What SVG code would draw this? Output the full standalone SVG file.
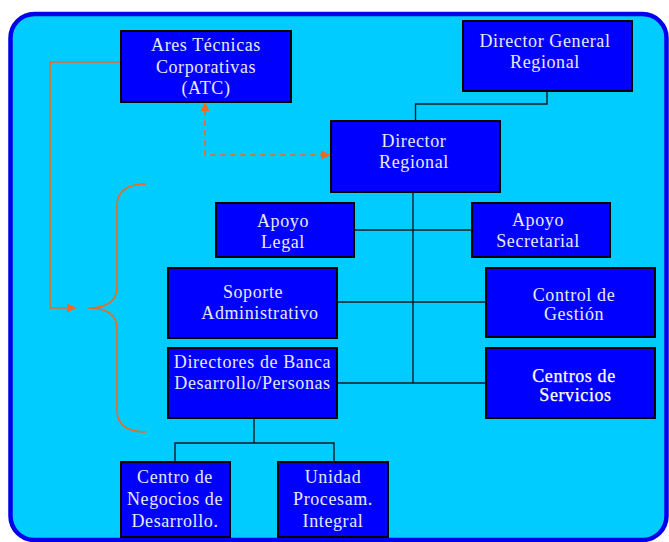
<svg xmlns="http://www.w3.org/2000/svg" width="669" height="542" viewBox="0 0 669 542">
<defs>
<style>
.box{fill:#0000FF;stroke:#000;stroke-width:2}
.t{font-family:"Liberation Serif","Times New Roman",serif;font-size:18px;fill:#E8E8FF;text-anchor:middle;letter-spacing:0.6px}
.b{fill:#FFFFFF;stroke:#FFFFFF;stroke-width:0.25}
.ln{fill:none;stroke:#0d1a26;stroke-width:1.4}
.or{fill:none;stroke:#EE6A1E;stroke-width:1.6}
.dash{stroke-dasharray:6 4}
.ah{fill:#EE6A1E}
</style>
</defs>
<rect x="10.5" y="14" width="656" height="526" rx="24" ry="24" fill="#00CCFF" stroke="#0000EE" stroke-width="4.5"/>
<g id="connectors">
<polyline class="ln" points="547,91 547,104 415.5,104 415.5,121"/>
<line class="ln" x1="413" y1="192" x2="413" y2="383"/>
<line class="ln" x1="354" y1="230" x2="472" y2="230"/>
<line class="ln" x1="337" y1="302" x2="486" y2="302"/>
<line class="ln" x1="337" y1="383" x2="486" y2="383"/>
<polyline class="ln" points="254,418 254,443"/>
<polyline class="ln" points="175,462 175,443 334,443 334,462"/>
<polyline class="or" points="121,62 50,62 50,308 68,308"/>
<polygon class="ah" points="77,308 67,303.5 67,312.5"/>
<polyline class="or dash" points="205,110 205,155 322,155"/>
<polygon class="ah" points="205,102 200.5,111 209.5,111"/>
<polygon class="ah" points="331,155 321,150.5 321,159.5"/>
<path class="or" d="M146,184 Q117,184 117,206 L117,287 Q117,308 88,308 Q117,308 117,329 L117,410 Q117,432 146,432"/>
</g>
<g id="atc"><rect class="box" x="121" y="31" width="170" height="71"/>
<text class="t" x="206" y="51">Ares Técnicas</text><text class="t" x="206" y="72.5">Corporativas</text><text class="t" x="206" y="94">(ATC)</text></g>
<g id="dgr"><rect class="box" x="463" y="21" width="169" height="70"/>
<text class="t" x="545" y="47">Director General</text><text class="t" x="545" y="68">Regional</text></g>
<g id="dr"><rect class="box" x="331" y="121" width="169" height="71"/>
<text class="t" x="414" y="147">Director</text><text class="t" x="414" y="168">Regional</text></g>
<g id="apoyo-legal"><rect class="box" x="216" y="203" width="138" height="54"/>
<text class="t" x="283" y="226.5">Apoyo</text><text class="t" x="283" y="247.5">Legal</text></g>
<g id="apoyo-secretarial"><rect class="box" x="472" y="203" width="138" height="54"/>
<text class="t" x="538" y="225.5">Apoyo</text><text class="t" x="538" y="246.5">Secretarial</text></g>
<g id="soporte"><rect class="box" x="168" y="268" width="169" height="70"/>
<text class="t" x="253" y="298">Soporte</text><text class="t" x="260" y="319">Administrativo</text></g>
<g id="control"><rect class="box" x="486" y="268" width="169" height="69"/>
<text class="t" x="574" y="300.5">Control de</text><text class="t" x="574" y="319.5">Gestión</text></g>
<g id="directores"><rect class="box" x="168" y="348" width="169" height="70"/>
<text class="t" x="252.5" y="367.5">Directores de Banca</text><text class="t" x="252.5" y="389">Desarrollo/Personas</text></g>
<g id="centros"><rect class="box" x="486" y="348" width="169" height="70"/>
<text class="t b" x="574" y="381.5">Centros de</text><text class="t b" x="575.5" y="400.5">Servicios</text></g>
<g id="centro-negocios"><rect class="box" x="121" y="462" width="109" height="75"/>
<text class="t" x="175" y="483.3">Centro de</text><text class="t" x="175" y="505">Negocios de</text><text class="t" x="175" y="526.7">Desarrollo.</text></g>
<g id="unidad"><rect class="box" x="278" y="462" width="110" height="75"/>
<text class="t" x="333" y="483.3">Unidad</text><text class="t" x="333" y="505">Procesam.</text><text class="t" x="333" y="526.7">Integral</text></g>
</svg>
